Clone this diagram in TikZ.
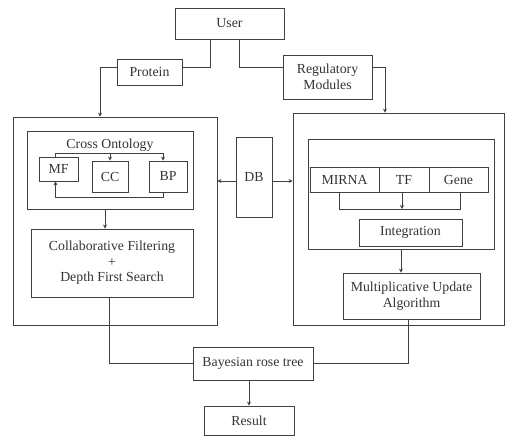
\documentclass[tikz,border=0pt]{standalone}
\usepackage{fontspec}
\setmainfont{Liberation Serif}
\usetikzlibrary{arrows.meta}
\begin{document}
\begin{tikzpicture}[x=1pt,y=-1pt,
  every node/.style={font=\fontsize{13.8}{15.5}\selectfont, text=black!80},
  box/.style={draw=black!75, line width=0.8pt, inner sep=0pt, align=center},
  ln/.style={draw=black!75, line width=0.8pt},
  arr/.style={ln, -{Stealth[length=4pt,width=4pt]}}]
\useasboundingbox (0,0) rectangle (506,436);
% top
\node[box, minimum width=109, minimum height=31] (User) at (229.5,23.5) {User};
\node[box, minimum width=65, minimum height=26] (Protein) at (149.5,72) {Protein};
\node[box, minimum width=89, minimum height=44] (Reg) at (327.5,77) {Regulatory\\Modules};
% left big box
\node[box, minimum width=204, minimum height=208] (L) at (115,221) {};
\node[box, minimum width=166, minimum height=78] (CO) at (110,170) {};
\node (COt) at (110,145) {Cross Ontology};
\node[box, minimum width=39, minimum height=24] (MF) at (58.5,169) {MF};
\node[box, minimum width=36, minimum height=31] (CC) at (110,176.5) {CC};
\node[box, minimum width=38, minimum height=31] (BP) at (168,176.5) {BP};
\node[box, minimum width=162, minimum height=68] (Collab) at (112,263) {Collaborative Filtering\\+\\Depth First Search};
% DB
\node[box, minimum width=36, minimum height=80] (DB) at (254,177) {DB};
% right big box
\node[box, minimum width=211, minimum height=212] (R) at (398.5,219) {};
\node[box, minimum width=186, minimum height=110] (I) at (401,194) {};
\node[box, minimum width=69, minimum height=25] (MIRNA) at (344.5,179.5) {MIRNA};
\node[box, minimum width=50, minimum height=25] (TF) at (404,179.5) {TF};
\node[box, minimum width=59, minimum height=25] (Gene) at (458.5,179.5) {Gene};
\node[box, minimum width=103, minimum height=27] (Integ) at (410.5,232.5) {Integration};
\node[box, minimum width=137, minimum height=46] (MUA) at (411.5,296) {Multiplicative Update\\Algorithm};
% bottom
\node[box, minimum width=120, minimum height=33] (Bayes) at (253,363.5) {Bayesian rose tree};
\node[box, minimum width=90, minimum height=29] (Result) at (249,420.5) {Result};
% helper coordinates
\coordinate (tl) at (0,153);
\coordinate (bl) at (0,197);
\coordinate (hj) at (0,209);
% connectors
\draw[ln] ([xshift=-19.5]User.south) |- ([yshift=5]Protein.east);
\draw[arr] ([yshift=5]Protein.west) -| ([xshift=-15]L.north);
\draw[ln] ([xshift=9.5]User.south) |- ([yshift=10]Reg.west);
\draw[arr] ([yshift=10]Reg.east) -| ([xshift=-13.5]R.north);
\draw[arr] ([xshift=-3]MF.north) -- ([xshift=-3]MF.north |- tl) -| ([xshift=-5]BP.north);
\draw[arr] (CC.north |- tl) -- (CC.north);
\draw[arr] ([xshift=-5]BP.south) -- ([xshift=-5]BP.south |- bl) -| ([xshift=-3]MF.south);
\draw[arr] ([xshift=-5]CO.south) -- ([xshift=-5]CO.south |- Collab.north);
\draw[ln] ([xshift=-3]Collab.south) |- (Bayes.west);
\draw[ln] ([xshift=-3]MUA.south) |- (Bayes.east);
\draw[arr] (Bayes.south -| Result.north) -- (Result.north);
\draw[arr] ([yshift=-4]DB.west) -- ([yshift=-4]DB.west -| L.east);
\draw[arr] ([yshift=-4]DB.east) -- ([yshift=-4]DB.east -| R.west);
\draw[ln] ([xshift=-5]MIRNA.south) -- ([xshift=-5]MIRNA.south |- hj) -| ([xshift=2]Gene.south);
\draw[arr] ([xshift=-2]TF.south) -- ([xshift=-2]TF.south |- hj);
\draw[arr] (I.south) -- (I.south |- MUA.north);
\end{tikzpicture}
\end{document}
